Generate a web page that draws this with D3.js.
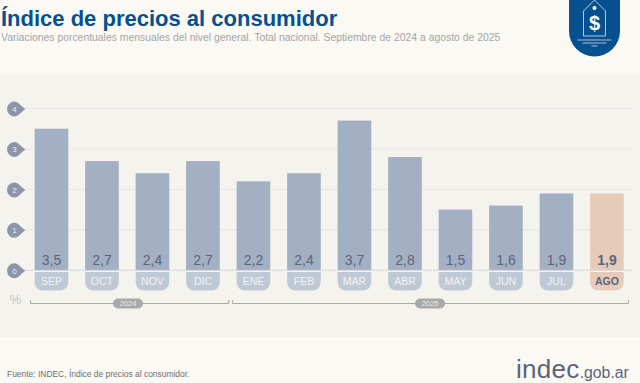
<!DOCTYPE html>
<html lang="es">
<head>
<meta charset="utf-8">
<script src="https://cdn.jsdelivr.net/npm/d3@7"></script>
<style>
  html, body { margin: 0; padding: 0; background: #fbf9f4; }
  svg { display: block; font-family: "Liberation Sans", Arial, sans-serif; }
</style>
</head>
<body>
<svg class="chart"></svg>
<script>
const months = ['SEP','OCT','NOV','DIC','ENE','FEB','MAR','ABR','MAY','JUN','JUL','AGO'];
const values = [3.5, 2.7, 2.4, 2.7, 2.2, 2.4, 3.7, 2.8, 1.5, 1.6, 1.9, 1.9];
const yTicks = [0, 1, 2, 3, 4];
const years = ['2024', '2025'];
const highlight = 'AGO';

const width = 640, height = 383;
const svg = d3.select('.chart').attr('width', width).attr('height', height);

// fondo
svg.append('rect').attr('width', width).attr('height', height).attr('fill', '#fbf9f4');
svg.append('rect').attr('y', 74).attr('width', width).attr('height', 263).attr('fill', '#f5f3ee');

// titulos
svg.append('text').attr('x', 1).attr('y', 26)
  .attr('font-size', 22).attr('font-weight', 700).attr('fill', '#06508f')
  .text('Índice de precios al consumidor');
svg.append('text').attr('x', 1).attr('y', 41)
  .attr('font-size', 10.4).attr('fill', '#a3a5a6')
  .text('Variaciones porcentuales mensuales del nivel general. Total nacional. Septiembre de 2024 a agosto de 2025');

// scales
const x = d3.scaleBand().domain(months).range([26.2, 632.2]).paddingInner(1/3).paddingOuter(1/6);
const y = d3.scaleLinear().domain([0, 4]).range([270.3, 108.5]);

// grid
const g = svg.append('g');
g.selectAll('.grid').data(yTicks).join('line')
  .attr('class', 'grid')
  .attr('x1', 25).attr('x2', 632)
  .attr('y1', d => y(d)).attr('y2', d => y(d))
  .attr('stroke', '#e6e6e4').attr('stroke-width', 1);

// barras
g.selectAll('.bar').data(months).join('rect')
  .attr('class', 'bar')
  .attr('x', d => x(d))
  .attr('width', x.bandwidth())
  .attr('y', (d, i) => y(values[i]))
  .attr('height', (d, i) => y(0) - y(values[i]))
  .attr('fill', d => d === highlight ? '#e6cbbb' : '#a3b0c3');

// linea del cero punteada encima de las barras
g.append('line')
  .attr('x1', 25).attr('x2', 632).attr('y1', y(0)).attr('y2', y(0))
  .attr('stroke', '#d4d7dc').attr('stroke-dasharray', '2 1');

// valores
g.selectAll('.val').data(months).join('text')
  .attr('class', 'val')
  .attr('x', d => x(d) + x.bandwidth() / 2)
  .attr('y', 265)
  .attr('text-anchor', 'middle')
  .attr('font-size', 14)
  .attr('font-weight', d => d === highlight ? 700 : 400)
  .attr('fill', '#5c6479')
  .text((d, i) => String(values[i]).replace('.', ','));

// etiquetas de mes
const pill = (x0, w, y0, h, r) =>
  `M${x0},${y0}H${x0 + w}V${y0 + h - r}Q${x0 + w},${y0 + h} ${x0 + w - r},${y0 + h}H${x0 + r}Q${x0},${y0 + h} ${x0},${y0 + h - r}Z`;

g.selectAll('.tab').data(months).join('path')
  .attr('class', 'tab')
  .attr('d', d => pill(x(d), x.bandwidth(), 272, 18.5, 9))
  .attr('fill', d => d === highlight ? '#e6cbbb' : '#bfc9d5');

g.selectAll('.mes').data(months).join('text')
  .attr('class', 'mes')
  .attr('x', d => x(d) + x.bandwidth() / 2)
  .attr('y', 285)
  .attr('text-anchor', 'middle')
  .attr('font-size', 10.5)
  .attr('font-weight', d => d === highlight ? 700 : 400)
  .attr('fill', d => d === highlight ? '#5c6479' : '#f2f3f4')
  .text(d => d);

// eje y con gotas
const axisG = svg.append('g').attr('transform', 'translate(14.5,0)')
  .call(d3.axisLeft(y).tickValues(yTicks).tickFormat(d3.format('d')).tickSize(0).tickPadding(0));
axisG.select('.domain').remove();
axisG.selectAll('.tick').insert('path', 'text')
  .attr('d', 'M0,-7.5A7.5,7.5 0 0 0 0,7.5C4,7.5 6,3 11,0C6,-3 4,-7.5 0,-7.5Z')
  .attr('fill', '#8e94aa');
axisG.selectAll('.tick text')
  .attr('x', 0).attr('text-anchor', 'middle').attr('dy', '0.34em')
  .attr('font-family', '"Liberation Sans", Arial, sans-serif')
  .attr('font-size', 8).attr('fill', '#eef0f3');

svg.append('text').attr('x', 15.5).attr('y', 304).attr('text-anchor', 'middle')
  .attr('font-size', 13).attr('fill', '#c3c4c6').text('%');

// corchetes de año
const yearSpans = [[30.5, x('DIC') + x.bandwidth() + 9], [x('ENE') - 4, x('AGO') + x.bandwidth() + 4.7]];
const pillX = [128, 430];
const yearG = svg.selectAll('.year').data(years).join('g').attr('class', 'year');
yearG.append('path')
  .attr('d', (d, i) => `M${yearSpans[i][0]},300V303.5H${yearSpans[i][1]}V300`)
  .attr('fill', 'none').attr('stroke', '#a9a9a7').attr('stroke-width', 1);
yearG.append('rect')
  .attr('x', (d, i) => pillX[i] - 15).attr('y', 298.5)
  .attr('width', 30).attr('height', 10).attr('rx', 5)
  .attr('fill', '#a9a9a7');
yearG.append('text')
  .attr('x', (d, i) => pillX[i]).attr('y', 306.3)
  .attr('text-anchor', 'middle').attr('font-size', 7.5).attr('fill', '#efefec')
  .text(d => d);

// fuente
svg.append('text').attr('x', 7).attr('y', 377)
  .attr('font-size', 8.45).attr('fill', '#6e7073')
  .text('Fuente: INDEC, Índice de precios al consumidor.');

// logo
const logo = svg.append('text').attr('x', 516).attr('y', 378).attr('fill', '#5c6479');
logo.append('tspan').attr('font-size', 26).attr('letter-spacing', 0.3).text('indec');
logo.append('tspan').attr('font-size', 15.8).text('.gob.ar');

// icono
const icon = svg.append('g').attr('transform', 'translate(594.5,0)');
icon.append('path')
  .attr('d', 'M-25.5,0H25.5V31A25.5,25.5 0 0 1 -25.5,31Z')
  .attr('fill', '#06508f');
icon.append('path')
  .attr('d', 'M-11,36V11L0,0L11,11V36Z')
  .attr('fill', 'none').attr('stroke', '#e4ecf3').attr('stroke-width', 0.8);
icon.append('circle').attr('cy', 8).attr('r', 2).attr('fill', '#fff');
icon.append('text').attr('y', 30).attr('text-anchor', 'middle')
  .attr('font-size', 20).attr('font-weight', 700).attr('fill', '#fff').text('$');
icon.selectAll('.raya').data([40, 43, 46]).join('line')
  .attr('class', 'raya')
  .attr('x1', (d, i) => [-17, -12, -3][i]).attr('x2', (d, i) => [17, 12, 3][i])
  .attr('y1', d => d).attr('y2', d => d)
  .attr('stroke', '#cfdde9').attr('stroke-width', 0.8);
</script>
</body>
</html>
